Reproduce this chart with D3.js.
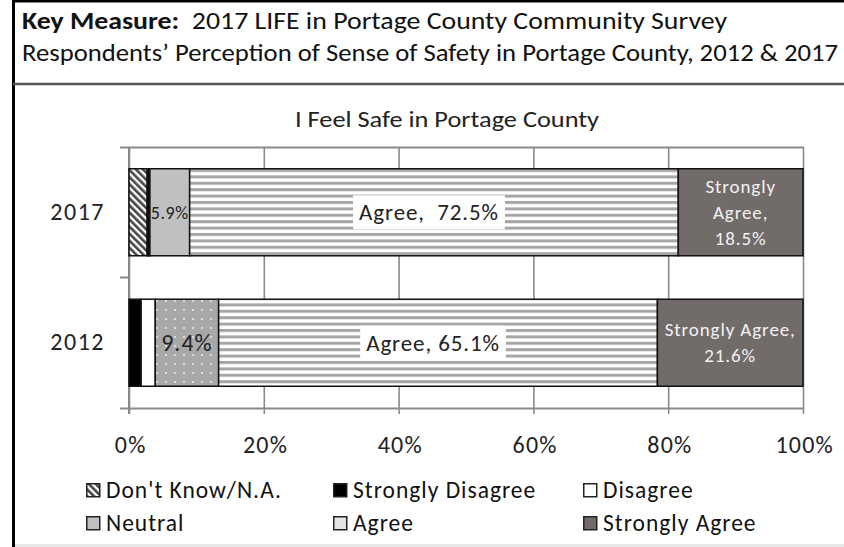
<!DOCTYPE html>
<html>
<head>
<meta charset="utf-8">
<script src="https://cdn.jsdelivr.net/npm/d3@7"></script>
<style>
  body { margin: 0; background: #fff; }
  svg text { font-family: Carlito, Lato, "Open Sans", sans-serif; }
</style>
</head>
<body>
<svg id="chart" width="844" height="547"></svg>
<script>
// chart data
var years = ['2017', '2012'];
var categories = ["Don't Know/N.A.", 'Strongly Disagree', 'Disagree', 'Neutral', 'Agree', 'Strongly Agree'];
var values2017 = [2.7, 0.3, 0.1, 5.9, 72.5, 18.5];
var values2012 = [0.0, 1.8, 2.1, 9.4, 65.1, 21.6];
var xTicks = [0, 20, 40, 60, 80, 100];

// segment labels (text only), keyed by year then category
var labels2017 = { 'Neutral': ['5.9%'], 'Agree': ['Agree,  72.5%'], 'Strongly Agree': ['Strongly', 'Agree,', '18.5%'] };
var labels2012 = { 'Neutral': ['9.4%'], 'Agree': ['Agree, 65.1%'], 'Strongly Agree': ['Strongly Agree,', '21.6%'] };

var titleLine2 = "Respondents\u2019 Perception of Sense of Safety in Portage County, 2012 & 2017";
var chartTitle = 'I Feel Safe in Portage County';

var rows = years.map(function(yr, i) {
    var vals = i === 0 ? values2017 : values2012;
    var r = { year: yr };
    categories.forEach(function(c, j) { r[c] = vals[j]; });
    return r;
});
var labelsByYear = { '2017': labels2017, '2012': labels2012 };

var svg = d3.select('#chart');

// ---- patterns
var defs = svg.append('defs');
var hatch = defs.append('pattern').attr('id', 'hatch')
    .attr('patternUnits', 'userSpaceOnUse').attr('width', 5).attr('height', 5)
    .attr('patternTransform', 'rotate(-45)');
hatch.append('rect').attr('width', 5).attr('height', 5).attr('fill', '#fff');
hatch.append('rect').attr('width', 2.6).attr('height', 5).attr('fill', '#444');

var stripes = defs.append('pattern').attr('id', 'stripes')
    .attr('patternUnits', 'userSpaceOnUse').attr('width', 8).attr('height', 6.4)
    .attr('y', 169);
stripes.append('rect').attr('width', 8).attr('height', 6.4).attr('fill', '#fff');
stripes.append('rect').attr('width', 8).attr('height', 3).attr('fill', '#a6a6a6');

var dots = defs.append('pattern').attr('id', 'dots')
    .attr('patternUnits', 'userSpaceOnUse').attr('width', 9).attr('height', 9);
dots.append('rect').attr('width', 9).attr('height', 9).attr('fill', '#a8a8a8');
dots.append('rect').attr('x', 3).attr('y', 3).attr('width', 2).attr('height', 2).attr('fill', '#dcdcdc');

var fills = {
    "Don't Know/N.A.": 'url(#hatch)',
    'Strongly Disagree': '#000',
    'Disagree': '#fff',
    'Neutral': '#c0c0c0',
    'Agree': 'url(#stripes)',
    'Strongly Agree': '#716b6a'
};
var fillFor = function(cat, yr) {
    if (cat === 'Neutral' && yr === '2012') return 'url(#dots)';
    return fills[cat];
};

// wider text to get close to the Calibri look
var wide = function(sel, size, spacing) {
    sel.attr('font-size', size).attr('letter-spacing', spacing);
};

// ---- frame
svg.append('line').attr('x1', 13.5).attr('x2', 13.5).attr('y1', 0).attr('y2', 547)
    .attr('stroke', '#000').attr('stroke-width', 3);
svg.append('line').attr('x1', 13).attr('x2', 844).attr('y1', 1).attr('y2', 1)
    .attr('stroke', '#000').attr('stroke-width', 3);
svg.append('line').attr('x1', 13).attr('x2', 844).attr('y1', 84).attr('y2', 84)
    .attr('stroke', '#555').attr('stroke-width', 2.5);
svg.append('line').attr('x1', 15).attr('x2', 844).attr('y1', 545.5).attr('y2', 545.5)
    .attr('stroke', '#e8e8e8').attr('stroke-width', 3);

// ---- header text
var h1 = svg.append('text').attr('x', 22).attr('y', 29).attr('font-size', 24).attr('fill', '#111')
    .attr('textLength', 705).attr('lengthAdjust', 'spacingAndGlyphs');
h1.append('tspan').attr('font-weight', 'bold').text('Key Measure:');
h1.append('tspan').attr('xml:space', 'preserve').text('  2017 LIFE in Portage County Community Survey');
svg.append('text').attr('x', 22).attr('y', 61).attr('font-size', 24).attr('fill', '#111')
    .attr('textLength', 816).attr('lengthAdjust', 'spacingAndGlyphs')
    .text(titleLine2);

svg.append('text').attr('x', 447).attr('y', 127).attr('text-anchor', 'middle')
    .attr('font-size', 23).attr('fill', '#222')
    .attr('textLength', 304).attr('lengthAdjust', 'spacingAndGlyphs')
    .text(chartTitle);

// ---- scales
var x = d3.scaleLinear().domain([0, 100]).range([129, 803]);
var y = d3.scaleBand().domain(years).range([147, 408]).paddingInner(0.333).paddingOuter(0.1667);

// gridlines
svg.append('g').attr('transform', 'translate(0,414)')
    .call(d3.axisBottom(x).tickValues(xTicks).tickSize(-267).tickFormat(''))
    .call(function(g) { g.select('.domain').remove(); })
    .selectAll('line').attr('stroke', '#8a8a8a').attr('stroke-width', 1.6);

// axis frame lines
var axisCol = '#8a8a8a';
svg.append('line').attr('x1', 120).attr('x2', 804).attr('y1', 147.5).attr('y2', 147.5)
    .attr('stroke', axisCol).attr('stroke-width', 2.2);
svg.append('line').attr('x1', 120).attr('x2', 804).attr('y1', 408.5).attr('y2', 408.5)
    .attr('stroke', axisCol).attr('stroke-width', 2.2);
svg.append('line').attr('x1', 120).attr('x2', 129).attr('y1', 277.5).attr('y2', 277.5)
    .attr('stroke', axisCol).attr('stroke-width', 2);
svg.append('line').attr('x1', 129).attr('x2', 129).attr('y1', 147).attr('y2', 414)
    .attr('stroke', axisCol).attr('stroke-width', 2);

// x tick labels
var xAxis = svg.append('g').attr('transform', 'translate(0,408)')
    .call(d3.axisBottom(x).tickValues(xTicks).tickSize(0).tickPadding(28)
        .tickFormat(function(d) { return d + '%'; }));
xAxis.select('.domain').remove();
xAxis.selectAll('text').attr('fill', '#222').attr('dx', '0.05em')
    .style('font-family', 'Carlito, Lato, sans-serif')
    .call(wide, 24, 1.2);

// y labels
var yAxis = svg.append('g').attr('transform', 'translate(129,0)')
    .call(d3.axisLeft(y).tickSize(0).tickPadding(24));
yAxis.select('.domain').remove();
yAxis.selectAll('text').attr('fill', '#222')
    .style('font-family', 'Carlito, Lato, sans-serif')
    .call(wide, 24, 1.5);

// ---- stacked bars
var series = d3.stack().keys(categories)(rows);

var layer = svg.append('g').selectAll('g.layer')
    .data(series)
    .enter().append('g').attr('class', 'layer');

layer.selectAll('rect')
    .data(function(s) { return s.map(function(d) { return { key: s.key, d: d }; }); })
    .enter().append('rect')
    .filter(function(o) { return o.d[1] - o.d[0] > 0; })
    .attr('x', function(o) { return x(o.d[0]); })
    .attr('y', function(o) { return y(o.d.data.year); })
    .attr('width', function(o) { return x(o.d[1]) - x(o.d[0]); })
    .attr('height', y.bandwidth())
    .attr('fill', function(o) { return fillFor(o.key, o.d.data.year); })
    .attr('stroke', '#111')
    .attr('stroke-width', 1.5);

// ---- segment labels
series.forEach(function(s) {
    s.forEach(function(d) {
        var yr = d.data.year;
        var lines = labelsByYear[yr][s.key];
        if (!lines) return;
        var cx = x((d[0] + d[1]) / 2);
        var cy = y(yr) + y.bandwidth() / 2;
        var fs = 22, ls = 0.9, lh = 25, col = '#222';
        if (s.key === 'Neutral') { fs = yr === '2017' ? 18 : 24; ls = yr === '2017' ? 0.6 : 1; }
        if (s.key === 'Strongly Agree') { fs = 19; ls = 0.9; lh = 26; col = '#f2f2f2'; }
        if (s.key === 'Agree') { fs = 23; cx -= 5; }
        var g = svg.append('g');
        var t = g.append('text').attr('text-anchor', 'middle').attr('fill', col)
            .attr('xml:space', 'preserve').call(wide, fs, ls);
        lines.forEach(function(ln, i) {
            t.append('tspan').attr('x', cx)
                .attr('y', cy + (i - (lines.length - 1) / 2) * lh)
                .attr('dy', '0.35em').text(ln);
        });
        if (s.key === 'Agree') {
            var bb = t.node().getBBox();
            g.insert('rect', 'text')
                .attr('x', bb.x - 6).attr('y', bb.y - 3)
                .attr('width', bb.width + 12).attr('height', bb.height + 6)
                .attr('fill', '#fff');
        }
    });
});

// ---- legend
var legendCols = [86, 333, 583];
var legend = svg.append('g').selectAll('g')
    .data(categories)
    .enter().append('g')
    .attr('transform', function(c, i) {
        return 'translate(' + legendCols[i % 3] + ',' + (i < 3 ? 483 : 516) + ')';
    });
legend.append('rect')
    .attr('x', 0.75).attr('y', 0.75).attr('width', 13).attr('height', 13)
    .attr('fill', function(c) { return c === 'Agree' ? '#e4e4e4' : fills[c]; })
    .attr('stroke', '#222').attr('stroke-width', 1.5);
legend.append('text')
    .attr('x', 20).attr('y', 7).attr('dy', '0.36em')
    .attr('fill', '#111')
    .text(function(c) { return c; })
    .call(wide, 23.5, 1);
</script>
</body>
</html>
